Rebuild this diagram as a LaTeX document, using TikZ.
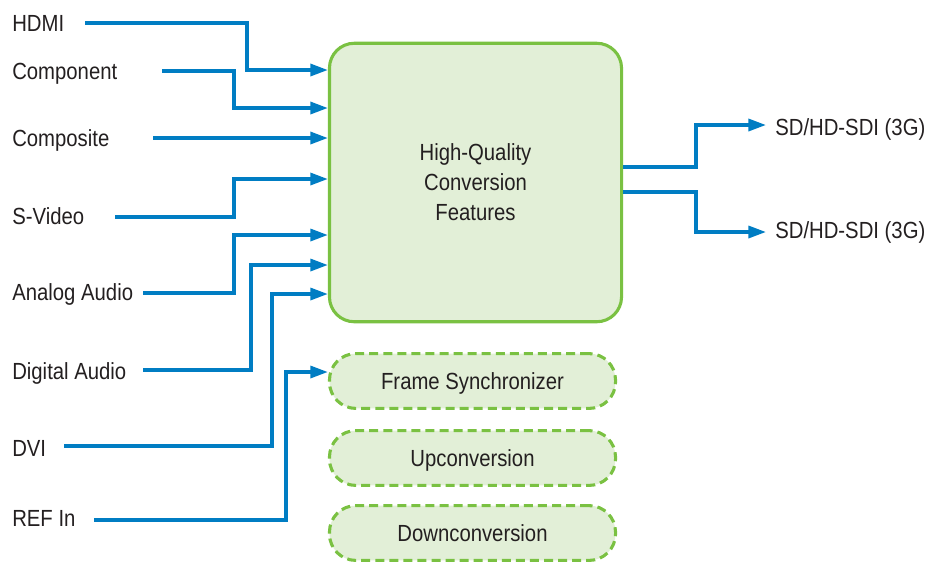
\documentclass[tikz,border=0pt]{standalone}
\usepackage{xcolor}
\usepackage{fontspec}
\setmainfont{Liberation Sans}[FakeStretch=0.87]
\usetikzlibrary{arrows.meta}
\definecolor{signal}{RGB}{0,125,195}
\definecolor{feature}{RGB}{122,193,66}
\definecolor{featurefill}{RGB}{226,239,215}
\definecolor{labeltext}{RGB}{35,31,32}
\newcommand{\labelfont}{\fontsize{16.6pt}{21.3pt}\selectfont}
\tikzstyle{port}=[anchor=base west, inner sep=0pt, text=labeltext, font=\labelfont]
\tikzstyle{mainbox}=[draw=feature, fill=featurefill, line width=2.2pt, rounded corners=0.62cm, minimum width=7.3cm, minimum height=6.96cm, align=center, text=labeltext, font=\labelfont]
\tikzstyle{optbox}=[draw=feature, fill=featurefill, line width=2.2pt, dash pattern=on 6.4pt off 3.6pt, rounded corners=0.66cm, minimum width=7.15cm, minimum height=1.37cm, text height=11.9pt, text depth=0pt, text=labeltext, font=\labelfont]
\tikzstyle{sig}=[-{Triangle[length=12.5pt,width=8.5pt]}, line width=2.4pt, color=signal]

\begin{document}
\begin{tikzpicture}[x=0.025cm,y=-0.025cm]
  \useasboundingbox (0,0) rectangle (938,562);

  %% Converter
  \draw (475.5,182.5) node[mainbox] (main) {High-Quality\\Conversion\\Features};
  \draw (472.5,381) node[optbox] (frame) {Frame Synchronizer};
  \draw (472.5,458) node[optbox] (upconv) {Upconversion};
  \draw (472.5,533) node[optbox] (downconv) {Downconversion};

  %% Inputs
  \draw (12,31.5) node[port] (hdmi) {HDMI};
  \draw (12,79) node[port] (component) {Component};
  \draw (12,146.5) node[port] (composite) {Composite};
  \draw (12,224) node[port] (svideo) {S-Video};
  \draw (12,300) node[port] (analog) {Analog Audio};
  \draw (12,379) node[port] (digital) {Digital Audio};
  \draw (12,456) node[port] (dvi) {DVI};
  \draw (12,526.5) node[port] (refin) {REF In};

  \coordinate (hdmi-s) at (85,23);
  \coordinate (component-s) at (162,71);
  \coordinate (composite-s) at (153,138);
  \coordinate (svideo-s) at (115,217);
  \coordinate (analog-s) at (143,293);
  \coordinate (digital-s) at (143,370);
  \coordinate (dvi-s) at (64,446);
  \coordinate (refin-s) at (94,520);

  \draw[sig] (hdmi-s) -- (247,23) |- (main.west |- 0,70);
  \draw[sig] (component-s) -- (234,71) |- (main.west |- 0,108);
  \draw[sig] (composite-s) -- (main.west |- 0,138);
  \draw[sig] (svideo-s) -- (234,217) |- (main.west |- 0,179);
  \draw[sig] (analog-s) -- (234,293) |- (main.west |- 0,235);
  \draw[sig] (digital-s) -- (251,370) |- (main.west |- 0,265);
  \draw[sig] (dvi-s) -- (272,446) |- (main.west |- 0,294);
  \draw[sig] (refin-s) -- (286,520) |- (frame.west |- 0,372);

  %% Outputs
  \draw (775,135) node[port] (sdi1) {SD/HD-SDI (3G)};
  \draw (775,238) node[port] (sdi2) {SD/HD-SDI (3G)};
  \coordinate (sdi1-e) at (766,125);
  \coordinate (sdi2-e) at (766,232);

  \draw[sig] (main.east |- 0,167) -- (696,167) |- (sdi1-e);
  \draw[sig] (main.east |- 0,192) -- (696,192) |- (sdi2-e);
\end{tikzpicture}
\end{document}
